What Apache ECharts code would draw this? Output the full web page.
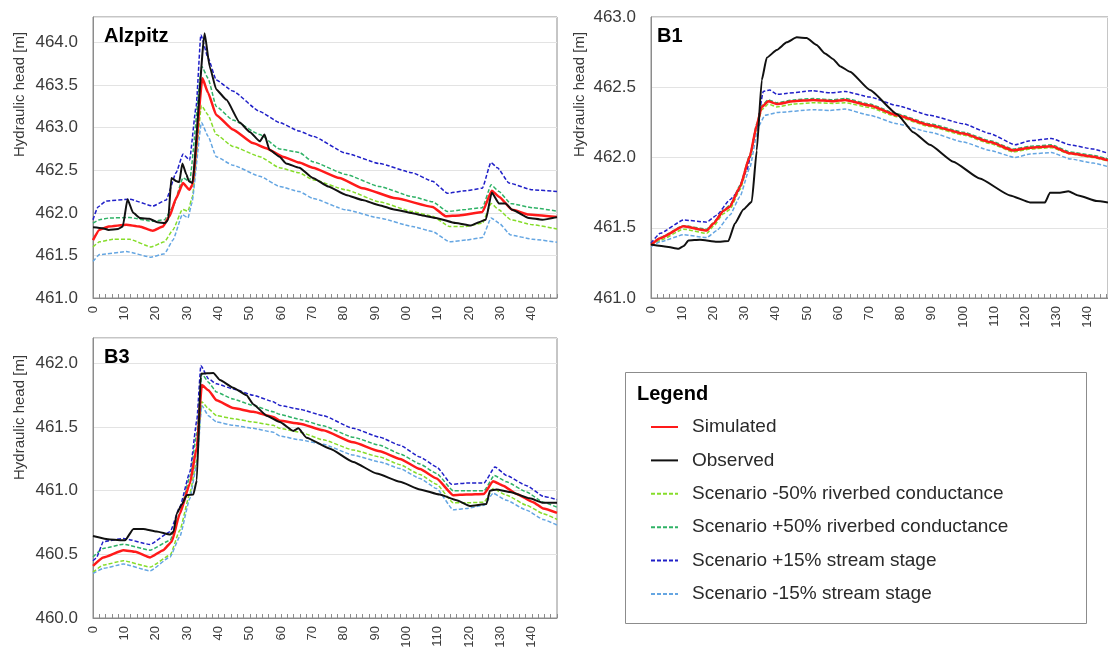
<!DOCTYPE html>
<html>
<head>
<meta charset="utf-8">
<script src="https://cdn.jsdelivr.net/npm/echarts@6/dist/echarts.min.js"></script>
<style>
  html, body { margin: 0; padding: 0; background: #ffffff; }
  #chart { width: 1108px; height: 652px; }
</style>
</head>
<body>
<div id="chart"></div>
<script>
// Series names (legend order)
const seriesNames = [
  'Simulated',
  'Observed',
  'Scenario -50% riverbed conductance',
  'Scenario +50% riverbed conductance',
  'Scenario +15% stream stage',
  'Scenario -15% stream stage'
];

// Panel names and axis ranges
const panelTitles = ['Alzpitz', 'B1', 'B3'];
const yMin = [461.0, 461.0, 460.0];
const yMax = [464.3, 463.0, 462.2];
const xMax = [148, 146.5, 148];
const yTitle = 'Hydraulic head [m]';

// ---- Alzpitz: [day, head] ----
const alzSimulated = [[0,461.68],[2,461.80],[5,461.84],[10.6,461.86],[14.8,461.84],[19.1,461.79],[22.3,461.84],[24.4,461.96],[26.5,462.17],[28.7,462.35],[30.8,462.27],[31.7,462.33],[34.9,463.58],[36.7,463.41],[39.3,463.15],[44.6,462.98],[51,462.82],[55.2,462.76],[60.5,462.66],[65.8,462.59],[70.1,462.53],[78.6,462.41],[86,462.29],[96.6,462.17],[108.3,462.07],[112.5,461.96],[116.8,461.97],[124.2,462.01],[127.2,462.26],[129.5,462.19],[133.7,462.035],[139,461.98],[148,461.95]];
const alzObserved = [[0,461.83],[3,461.82],[5,461.80],[8,461.81],[9.5,461.84],[11,462.16],[12.8,462.00],[15,461.94],[18,461.93],[20.5,461.89],[23,461.88],[24,461.92],[25,462.41],[26.7,462.37],[27.5,462.36],[28.5,462.58],[29.8,462.45],[30.6,462.37],[31.7,462.35],[35.6,464.11],[37.2,463.72],[39.3,463.45],[42.5,463.33],[46.8,463.06],[50,462.95],[53.2,462.84],[54.7,462.92],[56.3,462.74],[59.5,462.66],[61.6,462.58],[65.8,462.53],[70.1,462.41],[75,462.31],[80.7,462.21],[86,462.15],[91.3,462.09],[96,462.04],[101.9,461.996],[105,461.97],[109.4,461.94],[115.7,461.88],[120.5,461.85],[123.1,461.89],[125.3,461.92],[127.2,462.24],[129.5,462.11],[131.6,462.11],[133.7,462.035],[139,461.94],[143.3,461.92],[148,461.95]];
const alzMinus50 = [[0,461.60],[2.1,461.66],[6.4,461.69],[11.6,461.69],[18.5,461.60],[22.8,461.66],[25.5,461.80],[28.5,462.04],[30.3,462.02],[31.7,462.19],[34.6,463.26],[36.7,463.15],[39.3,462.92],[44.6,462.78],[53.2,462.66],[59.5,462.53],[65.8,462.47],[70.1,462.39],[80.7,462.27],[91.3,462.13],[101.9,462.015],[108.3,461.96],[113.7,461.84],[119,461.84],[124.2,461.88],[127,462.11],[129.5,462.035],[133.2,461.92],[140.2,461.86],[148,461.81]];
const alzPlus50 = [[0,461.88],[2.1,461.92],[5.3,461.94],[11.6,461.945],[19.1,461.90],[22.8,461.92],[25.5,462.07],[28.7,462.41],[30.8,462.37],[34.7,463.72],[36.7,463.58],[39.3,463.25],[44.6,463.09],[53.2,462.92],[59.5,462.75],[65.8,462.71],[70.1,462.60],[80.7,462.45],[91.3,462.31],[101.9,462.19],[108.3,462.13],[113.1,462.015],[119,462.04],[124.2,462.06],[127,462.33],[129.5,462.25],[133.2,462.11],[140.2,462.06],[148,462.02]];
const alzPlus15 = [[0,461.92],[1.6,462.07],[4.2,462.14],[11.6,462.16],[19.1,462.08],[23.3,462.15],[26.5,462.47],[28.7,462.69],[30.8,462.62],[32.9,463.25],[34.4,464.09],[36.7,463.82],[39.3,463.56],[44.6,463.43],[53.2,463.19],[59.5,463.06],[65.8,462.96],[70.1,462.90],[80.7,462.70],[91.3,462.58],[101.9,462.47],[108.3,462.37],[113.1,462.23],[119,462.26],[124.2,462.29],[126.9,462.59],[129,462.53],[132.7,462.35],[140.2,462.27],[148,462.25]];
const alzMinus15 = [[0,461.43],[2.1,461.51],[10.6,461.545],[18.5,461.48],[22.8,461.52],[25.5,461.68],[28.5,461.98],[30.3,461.94],[31.5,462.11],[34.6,463.06],[36.7,462.90],[39.3,462.66],[44.6,462.56],[53.2,462.43],[59.5,462.31],[65.8,462.25],[70.1,462.17],[80.7,462.035],[91.3,461.94],[101.9,461.84],[108.3,461.78],[113.7,461.66],[119,461.68],[124.2,461.71],[127,461.94],[129.5,461.88],[133.2,461.74],[140.2,461.69],[148,461.655]];

// ---- B1 ----
const b1Simulated = [[0,461.377],[2.9,461.425],[10.4,461.51],[17.9,461.48],[20,461.53],[23.2,461.62],[25.3,461.65],[28.5,461.79],[31.7,462.01],[33.9,462.23],[35.5,462.36],[37.6,462.40],[40.3,462.38],[45.6,462.40],[52,462.41],[58.4,462.40],[62.2,462.41],[70.2,462.37],[78.8,462.30],[89.4,462.23],[100.1,462.17],[108.7,462.11],[116.1,462.05],[121.5,462.07],[128.4,462.08],[134.3,462.03],[141.8,462.006],[146.5,461.98]];
const b1Observed = [[0,461.38],[5,461.365],[8.8,461.35],[10.5,461.37],[12,461.41],[15.7,461.415],[21.1,461.40],[24.8,461.405],[26.9,461.53],[29.6,461.63],[32.3,461.685],[33.9,462.05],[35.5,462.55],[37.1,462.71],[40.3,462.765],[43.5,462.82],[46.7,462.855],[49.9,462.85],[53.1,462.80],[55.8,462.74],[58.4,462.70],[60.6,462.65],[63.8,462.61],[70.2,462.48],[78.8,462.31],[84.1,462.18],[89.4,462.09],[96.9,461.97],[105.4,461.85],[115.1,461.73],[121.5,461.68],[126.3,461.68],[127.9,461.75],[131.1,461.75],[133.8,461.76],[137,461.73],[142.9,461.69],[146.5,461.68]];
const b1Minus50 = [[0,461.375],[2.9,461.41],[10.4,461.49],[17.9,461.46],[20,461.51],[23.2,461.60],[25.3,461.63],[28.5,461.77],[31.7,461.99],[33.9,462.21],[35.5,462.34],[37.6,462.38],[40.3,462.36],[45.6,462.38],[52,462.39],[58.4,462.385],[62.2,462.39],[70.2,462.355],[78.8,462.29],[89.4,462.22],[100.1,462.16],[108.7,462.10],[116.1,462.04],[121.5,462.06],[128.4,462.07],[134.3,462.025],[141.8,462.00],[146.5,461.975]];
const b1Plus50 = [[0,461.38],[2.9,461.43],[10.4,461.515],[17.9,461.49],[20,461.535],[23.2,461.625],[25.3,461.66],[28.5,461.80],[31.7,462.02],[33.9,462.24],[35.5,462.37],[37.6,462.41],[40.3,462.39],[45.6,462.41],[52,462.42],[58.4,462.41],[62.2,462.42],[70.2,462.38],[78.8,462.31],[89.4,462.24],[100.1,462.18],[108.7,462.12],[116.1,462.06],[121.5,462.08],[128.4,462.09],[134.3,462.04],[141.8,462.015],[146.5,461.99]];
const b1Plus15 = [[0,461.39],[2.9,461.46],[10.4,461.555],[17.9,461.54],[21.1,461.59],[25.3,461.70],[27.5,461.745],[30.7,461.91],[33.9,462.22],[36,462.47],[38.1,462.48],[40.3,462.45],[52,462.475],[57.4,462.46],[62.2,462.47],[70.2,462.43],[78.8,462.37],[89.4,462.30],[100.1,462.24],[108.7,462.17],[116.7,462.09],[121.5,462.12],[128.4,462.135],[134.3,462.09],[141.8,462.06],[146.5,462.03]];
const b1Minus15 = [[0,461.365],[2.9,461.40],[10.4,461.45],[17.9,461.43],[21.1,461.48],[25.3,461.59],[28.5,461.72],[31.7,461.93],[34.4,462.22],[36.5,462.30],[40.3,462.32],[52,462.34],[57.4,462.335],[62.2,462.345],[70.2,462.30],[78.8,462.24],[89.4,462.18],[100.1,462.11],[108.7,462.05],[116.7,462.00],[121.5,462.025],[128.4,462.035],[134.3,461.99],[141.8,461.96],[146.5,461.935]];

// ---- B3 ----
const b3Simulated = [[0,460.41],[3.3,460.476],[9.7,460.533],[13.5,460.52],[18.2,460.476],[22.4,460.533],[25.1,460.60],[27.7,460.82],[30.9,461.056],[33.1,461.34],[34.7,461.83],[36.8,461.79],[39.4,461.71],[44.7,461.65],[51.1,461.62],[57.5,461.58],[59.6,461.55],[66,461.527],[73.4,461.475],[83,461.38],[91.5,461.31],[97.9,461.25],[104.3,461.17],[109.6,461.096],[114.9,460.965],[119.1,460.97],[124.7,460.975],[127.6,461.075],[130.8,461.04],[135.1,460.975],[140.4,460.91],[143.6,460.86],[148,460.826]];
const b3Observed = [[0,460.645],[5.4,460.617],[10.2,460.61],[12.9,460.70],[16,460.70],[20.3,460.68],[24.6,460.656],[25.7,460.68],[26.7,460.82],[28.3,460.89],[29.9,460.965],[32,460.97],[33.1,461.08],[34.4,461.92],[38.4,461.925],[40.5,461.87],[44.7,461.81],[49,461.75],[51.1,461.68],[55.4,461.59],[59.6,461.54],[63.9,461.47],[65.5,461.49],[68.1,461.417],[75.6,461.33],[83,461.226],[90.5,461.135],[97.9,461.07],[104.3,461.01],[110.6,460.97],[116,460.925],[120.2,460.88],[125.5,460.895],[126.6,461.00],[128.7,461.01],[133,460.99],[139.3,460.94],[143.6,460.905],[148,460.905]];
const b3Minus50 = [[0,460.36],[3.3,460.416],[9.7,460.45],[18.2,460.40],[24.6,460.494],[27.7,460.69],[30.9,460.98],[33.1,461.24],[34.7,461.70],[36.8,461.645],[39.4,461.59],[44.7,461.566],[51.1,461.54],[57.5,461.514],[59.6,461.49],[66,461.46],[73.4,461.40],[83,461.32],[91.5,461.265],[97.9,461.205],[104.3,461.127],[109.6,461.05],[114.9,460.905],[119.1,460.905],[124.7,460.91],[127.6,461.017],[131.9,460.965],[138.3,460.886],[143.6,460.82],[148,460.774]];
const b3Plus50 = [[0,460.48],[3.3,460.547],[9.7,460.58],[18.2,460.533],[24.6,460.61],[27.7,460.82],[30.9,461.11],[33.1,461.45],[34.7,461.92],[36.8,461.853],[39.4,461.775],[44.7,461.72],[51.1,461.67],[57.5,461.62],[59.6,461.60],[66,461.56],[73.4,461.51],[83,461.42],[91.5,461.357],[97.9,461.29],[104.3,461.21],[109.6,461.135],[114.9,461.00],[119.1,461.00],[124.7,461.00],[128,461.12],[131.9,461.07],[138.3,460.99],[143.6,460.91],[148,460.87]];
const b3Plus15 = [[0,460.45],[1,460.47],[3.3,460.60],[9.7,460.625],[18.2,460.578],[24.6,460.677],[27.7,460.873],[30.9,461.147],[33.1,461.55],[34.4,461.984],[36.8,461.88],[39.4,461.84],[44.7,461.80],[51.1,461.75],[57.5,461.70],[59.6,461.67],[66,461.64],[73.4,461.59],[83,461.49],[91.5,461.42],[97.9,461.357],[104.3,461.265],[109.6,461.187],[114.4,461.05],[119.1,461.06],[124.7,461.06],[128.2,461.187],[131.9,461.12],[138.3,461.04],[143.6,460.957],[148,460.93]];
const b3Minus15 = [[0,460.35],[3.3,460.39],[9.7,460.424],[18.2,460.37],[24.6,460.48],[27.7,460.64],[30.9,460.94],[33.1,461.21],[34.7,461.67],[36.8,461.59],[39.4,461.54],[44.7,461.514],[51.1,461.49],[57.5,461.46],[59.6,461.43],[66,461.40],[73.4,461.365],[83,461.28],[91.5,461.226],[97.9,461.174],[104.3,461.096],[109.6,461.017],[114.9,460.85],[119.1,460.86],[124.7,460.886],[127.6,460.98],[131.9,460.925],[138.3,460.847],[143.6,460.774],[148,460.73]];

const panelData = [
  [alzSimulated, alzObserved, alzMinus50, alzPlus50, alzPlus15, alzMinus15],
  [b1Simulated, b1Observed, b1Minus50, b1Plus50, b1Plus15, b1Minus15],
  [b3Simulated, b3Observed, b3Minus50, b3Plus50, b3Plus15, b3Minus15]
];

// Line styles per series
const lineStyles = [
  { color: '#ff1a1a', width: 2.5, type: 'solid', z: 4 },
  { color: '#111111', width: 2,   type: 'solid', z: 5 },
  { color: '#86dd2a', width: 1.5, type: [4, 2],  z: 2 },
  { color: '#2fb266', width: 1.5, type: [4, 2],  z: 2 },
  { color: '#2020c8', width: 1.5, type: [4, 2],  z: 2 },
  { color: '#65a6e2', width: 1.5, type: [4, 2],  z: 2 }
];

const FONT = "'Liberation Sans', Arial, sans-serif";
const TEXT = '#3a3a3a';
const FRAME = '#8c8c8c';

const grids = [
  { left: 93,  top: 17,  width: 464, height: 281 },
  { left: 651, top: 17,  width: 457, height: 281 },
  { left: 93,  top: 338, width: 464, height: 280 }
];

const xAxes = grids.map((g, i) => ({
  type: 'value', gridIndex: i, min: 0, max: xMax[i], interval: 10,
  axisLine: { show: true, lineStyle: { color: FRAME, width: 1 } },
  axisTick: { show: true, inside: true, length: 4, lineStyle: { color: FRAME } },
  minorTick: { show: true, splitNumber: 5, length: 4, lineStyle: { color: FRAME } },
  splitLine: { show: false },
  axisLabel: {
    rotate: 90, fontSize: 13, color: TEXT, fontFamily: FONT, margin: 8,
    showMaxLabel: false,
    // the top-left panel sits tight above the one below it, so its
    // three-digit day labels only keep their last two digits
    formatter: v => (i === 0 && v >= 100) ? String(v).slice(-2) : String(v)
  }
}));

const yAxes = grids.map((g, i) => ({
  type: 'value', gridIndex: i, min: yMin[i], max: yMax[i], interval: 0.5,
  axisLine: { show: true, lineStyle: { color: FRAME, width: 1 } },
  axisTick: { show: false },
  splitLine: { show: true, lineStyle: { color: '#e3e3e3', width: 1 } },
  axisLabel: {
    fontSize: 17, color: TEXT, fontFamily: FONT, margin: 15,
    showMaxLabel: (i === 1),
    formatter: v => v.toFixed(1)
  }
}));

const series = [];
panelData.forEach((list, p) => {
  list.forEach((pts, s) => {
    const st = lineStyles[s];
    series.push({
      name: seriesNames[s], type: 'line', xAxisIndex: p, yAxisIndex: p,
      data: pts, symbol: 'none', showSymbol: false,
      smooth: 0.15, smoothMonotone: 'x', z: st.z,
      lineStyle: { color: st.color, width: st.width, type: st.type },
      itemStyle: { color: st.color },
      emphasis: { disabled: true }
    });
  });
});

// Panel names, axis titles and the legend frame
const titlePos = [[104, 36], [657, 36], [104, 357]];
const yTitlePos = [[20, 157], [580, 157], [20, 480]];
const graphics = [];
panelTitles.forEach((t, i) => {
  graphics.push({
    type: 'text', x: titlePos[i][0], y: titlePos[i][1], z: 10,
    style: { text: t, fill: '#000', font: "bold 20px " + FONT, textAlign: 'left', textVerticalAlign: 'middle' }
  });
  graphics.push({
    type: 'text', x: yTitlePos[i][0], y: yTitlePos[i][1], rotation: Math.PI / 2, z: 10,
    style: { text: yTitle, fill: TEXT, font: "15px " + FONT, textAlign: 'left', textVerticalAlign: 'middle' }
  });
});
graphics.push({
  type: 'rect', z: 0,
  shape: { x: 625.5, y: 372.5, width: 461, height: 251 },
  style: { fill: '#ffffff', stroke: FRAME, lineWidth: 1 }
});
graphics.push({
  type: 'text', x: 637, y: 394, z: 10,
  style: { text: 'Legend', fill: '#000', font: "bold 20px " + FONT, textAlign: 'left', textVerticalAlign: 'middle' }
});

const chart = echarts.init(document.getElementById('chart'), null, { renderer: 'canvas' });
chart.setOption({
  animation: false,
  backgroundColor: '#ffffff',
  textStyle: { fontFamily: FONT },
  grid: grids.map(g => Object.assign({ show: true, borderColor: FRAME, borderWidth: 1, backgroundColor: 'transparent' }, g)),
  xAxis: xAxes,
  yAxis: yAxes,
  legend: {
    data: seriesNames, orient: 'vertical', left: 645, top: 412, z: 20,
    itemWidth: 27, itemHeight: 20, itemGap: 13.4,
    selectedMode: false,
    // line keys only, no point marker
    itemStyle: { color: 'transparent', borderColor: 'transparent', borderWidth: 0, opacity: 0 },
    textStyle: { fontSize: 19, color: '#2a2a2a', fontFamily: FONT, lineHeight: 20, padding: [0, 0, 0, 9] }
  },
  graphic: graphics,
  series: series
});
</script>
</body>
</html>
